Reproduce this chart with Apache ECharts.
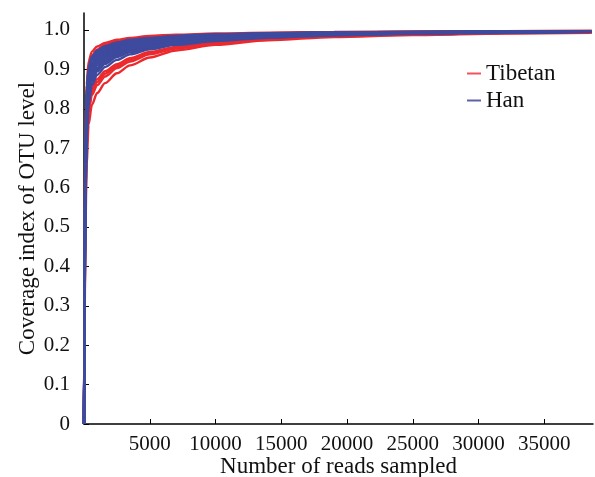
<!DOCTYPE html>
<html>
<head>
<meta charset="utf-8">
<script src="https://cdn.jsdelivr.net/npm/echarts@6/dist/echarts.min.js"></script>
<style>
  html, body { margin: 0; padding: 0; background: #fff; }
  #chart { width: 595px; height: 477px; }
</style>
</head>
<body>
<div id="chart"></div>
<script>
// reads sampled (x) shared by every curve
const readsSampled = [0, 40, 100, 200, 350, 600, 1000, 1600, 2500, 3500, 5000, 7000, 10000, 14000, 19000, 25000, 32000, 38600];

// Tibetan coverage curves
const tibetan1 = [0, 0.35, 0.70, 0.86, 0.92, 0.945, 0.958, 0.967, 0.975, 0.980, 0.985, 0.988, 0.991, 0.993, 0.995, 0.996, 0.997, 0.998];
const tibetan2 = [0, 0.30, 0.64, 0.83, 0.90, 0.935, 0.950, 0.962, 0.971, 0.977, 0.982, 0.986, 0.989, 0.992, 0.994, 0.995, 0.996, 0.997];
const tibetan3 = [0, 0.28, 0.60, 0.78, 0.86, 0.900, 0.920, 0.935, 0.948, 0.957, 0.966, 0.974, 0.980, 0.986, 0.990, 0.993, 0.995, 0.996];
const tibetan4 = [0, 0.26, 0.56, 0.73, 0.81, 0.850, 0.875, 0.895, 0.913, 0.928, 0.944, 0.957, 0.969, 0.979, 0.985, 0.990, 0.993, 0.995];
const tibetan5 = [0, 0.24, 0.52, 0.70, 0.79, 0.835, 0.860, 0.882, 0.903, 0.920, 0.938, 0.953, 0.966, 0.977, 0.984, 0.989, 0.992, 0.994];
const tibetan6 = [0, 0.22, 0.48, 0.66, 0.76, 0.810, 0.840, 0.865, 0.890, 0.910, 0.930, 0.948, 0.962, 0.974, 0.982, 0.987, 0.991, 0.993];
const tibetan7 = [0, 0.25, 0.54, 0.72, 0.80, 0.843, 0.868, 0.889, 0.908, 0.924, 0.941, 0.955, 0.967, 0.978, 0.985, 0.989, 0.992, 0.994];

// Han coverage curves
const han1 = [0, 0.32, 0.66, 0.84, 0.900, 0.928, 0.944, 0.956, 0.966, 0.973, 0.979, 0.984, 0.988, 0.991, 0.993, 0.995, 0.996, 0.997];
const han2 = [0, 0.30, 0.63, 0.81, 0.880, 0.915, 0.934, 0.948, 0.960, 0.968, 0.975, 0.981, 0.986, 0.990, 0.992, 0.994, 0.996, 0.997];
const han3 = [0, 0.29, 0.61, 0.79, 0.865, 0.905, 0.925, 0.940, 0.953, 0.962, 0.970, 0.977, 0.983, 0.988, 0.991, 0.993, 0.995, 0.996];
const han4 = [0, 0.28, 0.59, 0.77, 0.850, 0.893, 0.915, 0.932, 0.946, 0.956, 0.965, 0.973, 0.980, 0.986, 0.990, 0.993, 0.995, 0.996];
const han5 = [0, 0.27, 0.57, 0.75, 0.835, 0.880, 0.904, 0.922, 0.938, 0.949, 0.960, 0.969, 0.977, 0.984, 0.989, 0.992, 0.994, 0.996];
const han6 = [0, 0.26, 0.55, 0.74, 0.820, 0.870, 0.895, 0.914, 0.931, 0.943, 0.955, 0.965, 0.974, 0.982, 0.987, 0.991, 0.994, 0.995];
const han7 = [0, 0.25, 0.54, 0.72, 0.810, 0.860, 0.886, 0.906, 0.924, 0.938, 0.951, 0.962, 0.972, 0.980, 0.986, 0.990, 0.993, 0.995];
const han8 = [0, 0.31, 0.65, 0.83, 0.890, 0.922, 0.939, 0.952, 0.963, 0.971, 0.977, 0.983, 0.987, 0.991, 0.993, 0.995, 0.996, 0.997];
const han9 = [0, 0.27, 0.58, 0.76, 0.842, 0.887, 0.910, 0.927, 0.942, 0.953, 0.963, 0.971, 0.979, 0.985, 0.989, 0.992, 0.994, 0.996];
const han10 = [0, 0.30, 0.62, 0.80, 0.872, 0.910, 0.930, 0.944, 0.957, 0.965, 0.973, 0.979, 0.985, 0.989, 0.992, 0.994, 0.995, 0.997];
const han11 = [0, 0.28, 0.60, 0.78, 0.857, 0.899, 0.920, 0.936, 0.950, 0.959, 0.968, 0.975, 0.982, 0.987, 0.990, 0.993, 0.995, 0.996];
const han12 = [0, 0.27, 0.56, 0.745, 0.828, 0.875, 0.900, 0.918, 0.934, 0.946, 0.958, 0.967, 0.976, 0.983, 0.988, 0.991, 0.994, 0.995];
const han13 = [0, 0.33, 0.67, 0.85, 0.905, 0.933, 0.948, 0.959, 0.968, 0.975, 0.980, 0.985, 0.989, 0.992, 0.994, 0.995, 0.996, 0.997];

const xTicks = [5000, 10000, 15000, 20000, 25000, 30000, 35000];
const yTicks = [0, 0.1, 0.2, 0.3, 0.4, 0.5, 0.6, 0.7, 0.8, 0.9, 1.0];

const tibetanCurves = [tibetan1, tibetan2, tibetan3, tibetan4, tibetan5, tibetan6, tibetan7];
const hanCurves = [han1, han2, han3, han4, han5, han6, han7, han8, han9, han10, han11, han12, han13];

const RED = '#ec2a2e';
const BLUE = '#3d4a9e';
const FONT = 'Liberation Serif';

const toSeries = (curve, name, color) => ({
  name,
  type: 'line',
  symbol: 'none',
  smooth: 0.3,
  smoothMonotone: 'x',
  lineStyle: { color, width: 2.4 },
  itemStyle: { color },
  data: readsSampled.map((x, i) => [x, curve[i]]),
});

const chart = echarts.init(document.getElementById('chart'), null, { renderer: 'canvas' });
chart.setOption({
  animation: false,
  textStyle: { fontFamily: FONT, color: '#000' },
  grid: { left: 84, right: 2, top: 13, bottom: 53, containLabel: false, outerBoundsMode: 'none' },
  legend: {
    orient: 'vertical',
    left: 462,
    top: 57,
    itemGap: 4,
    itemWidth: 14,
    itemHeight: 2,
    icon: 'rect',
    textStyle: { fontFamily: FONT, fontSize: 23, color: '#111' },
    data: [
      { name: 'Tibetan', itemStyle: { color: '#f0545a' } },
      { name: 'Han', itemStyle: { color: '#5c62a8' } },
    ],
  },
  xAxis: {
    type: 'value',
    min: 0,
    max: 38700,
    name: 'Number of reads sampled',
    nameLocation: 'middle',
    nameGap: 31,
    nameMoveOverlap: false,
    nameTextStyle: { fontFamily: FONT, fontSize: 23, color: '#111' },
    axisLine: { lineStyle: { color: '#000', width: 1.5 } },
    axisTick: { inside: true, length: 5, customValues: xTicks, lineStyle: { color: '#000' } },
    axisLabel: {
      customValues: xTicks,
      margin: 10,
      fontFamily: FONT,
      fontSize: 21,
      color: '#111',
      formatter: (v) => String(v),
    },
    splitLine: { show: false },
  },
  yAxis: {
    type: 'value',
    min: 0,
    max: 1.043,
    name: 'Coverage index of OTU level',
    nameLocation: 'middle',
    nameGap: 45,
    nameMoveOverlap: false,
    nameTextStyle: { fontFamily: FONT, fontSize: 23, color: '#111' },
    axisLine: { show: true, lineStyle: { color: '#000', width: 1.5 } },
    axisTick: { show: true, inside: true, length: 5, customValues: yTicks, lineStyle: { color: '#000' } },
    axisLabel: {
      customValues: yTicks,
      margin: 14,
      fontFamily: FONT,
      fontSize: 21,
      color: '#111',
      formatter: (v) => (v === 0 ? '0' : v.toFixed(1)),
    },
    splitLine: { show: false },
  },
  series: [
    ...tibetanCurves.map((c) => toSeries(c, 'Tibetan', RED)),
    ...hanCurves.map((c) => toSeries(c, 'Han', BLUE)),
  ],
});
</script>
</body>
</html>
